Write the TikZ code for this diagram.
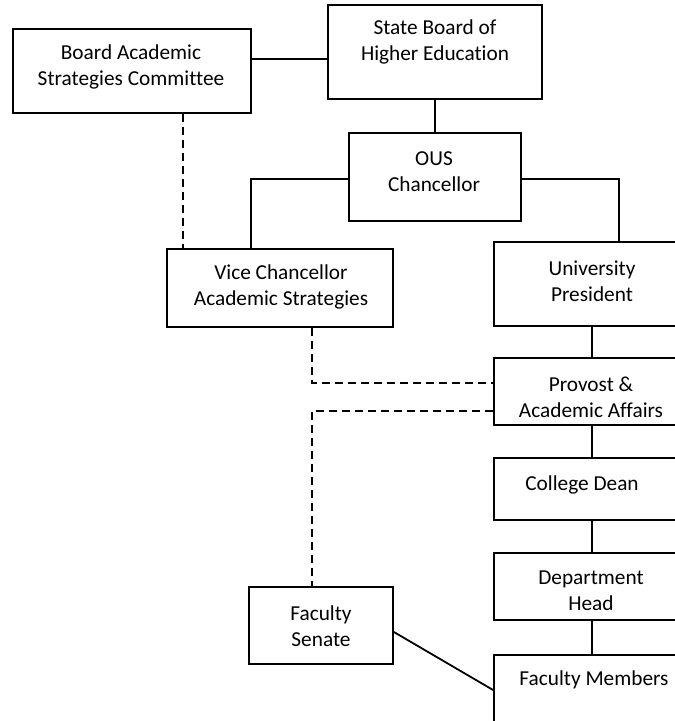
\documentclass[tikz,border=0pt]{standalone}
\usepackage{fontspec}
\setmainfont{Carlito}[Ligatures=NoCommon]
\begin{document}
\begin{tikzpicture}[x=1pt,y=-1pt,
  box/.style={draw, line width=1.8pt, rectangle, inner sep=0pt},
  txt/.style={align=center, inner sep=0pt, font=\fontsize{21.3}{26}\selectfont},
  conn/.style={line width=1.8pt},
  dconn/.style={line width=1.8pt, dash pattern=on 8pt off 5pt}]
\useasboundingbox (0,0) rectangle (675,721);
\clip (0,0) rectangle (675,721);
% boxes
\node[box, minimum width=238pt, minimum height=84pt] (basc) at (132,71) {};
\node[box, minimum width=214pt, minimum height=94pt] (sb) at (435,52) {};
\node[box, minimum width=172pt, minimum height=88pt] (ous) at (435,177) {};
\node[box, minimum width=226pt, minimum height=78pt] (vice) at (280,288) {};
\node[box, minimum width=196pt, minimum height=84pt] (univ) at (592,284) {};
\node[box, minimum width=196pt, minimum height=67pt] (prov) at (592,391.5) {};
\node[box, minimum width=196pt, minimum height=62pt] (dean) at (592,489) {};
\node[box, minimum width=196pt, minimum height=67pt] (dept) at (592,586.5) {};
\node[box, minimum width=196pt, minimum height=90pt] (fm) at (592,700) {};
\node[box, minimum width=144pt, minimum height=77pt] (fs) at (321,625.5) {};
% texts
\node[txt] (basct) at (131,67) {Board Academic\\Strategies Committee};
\node[txt] (sbt) at (435,42) {State Board of\\Higher Education};
\node[txt] (oust) at (434,172) {OUS\\Chancellor};
\node[txt] (vicet) at (281,287) {Vice Chancellor\\Academic Strategies};
\node[txt] (univt) at (592,281) {University\\President};
\node[txt] (provt) at (591,397) {Provost \&\\Academic Affairs};
\node[txt] (deant) at (582,485) {College Dean};
\node[txt] (deptt) at (591,591) {Department\\Head};
\node[txt] (fmt) at (594,680) {Faculty Members};
\node[txt] (fst) at (321,626) {Faculty\\Senate};
% helper coordinates
\coordinate (lx) at (251,179);
\coordinate (rx) at (619,179);
\coordinate (dx) at (183,0);
\coordinate (vx) at (312,383);
\coordinate (px) at (312,411);
\coordinate (sy) at (0,59);
\coordinate (fsy) at (0,632);
\coordinate (fmy) at (0,690);
% solid connectors
\draw[conn] (basc.east |- sy) -- (sb.west |- sy);
\draw[conn] (sb.south) -- (sb.south |- ous.north);
\draw[conn] (ous.west |- lx) -- (lx) -- (lx |- vice.north);
\draw[conn] (ous.east |- rx) -- (rx) -- (rx |- univ.north);
\draw[conn] (univ.south) -- (prov.north);
\draw[conn] (prov.south) -- (dean.north);
\draw[conn] (dean.south) -- (dept.north);
\draw[conn] (dept.south) -- (fm.north);
\draw[conn] (fs.east |- fsy) -- (fm.west |- fmy);
% dashed connectors
\draw[dconn] (dx |- basc.south) -- (dx |- vice.north);
\draw[dconn] (vx |- vice.south) -- (vx) -- (prov.west |- vx);
\draw[dconn] (prov.west |- px) -- (px) -- (px |- fs.north);
\end{tikzpicture}
\end{document}
